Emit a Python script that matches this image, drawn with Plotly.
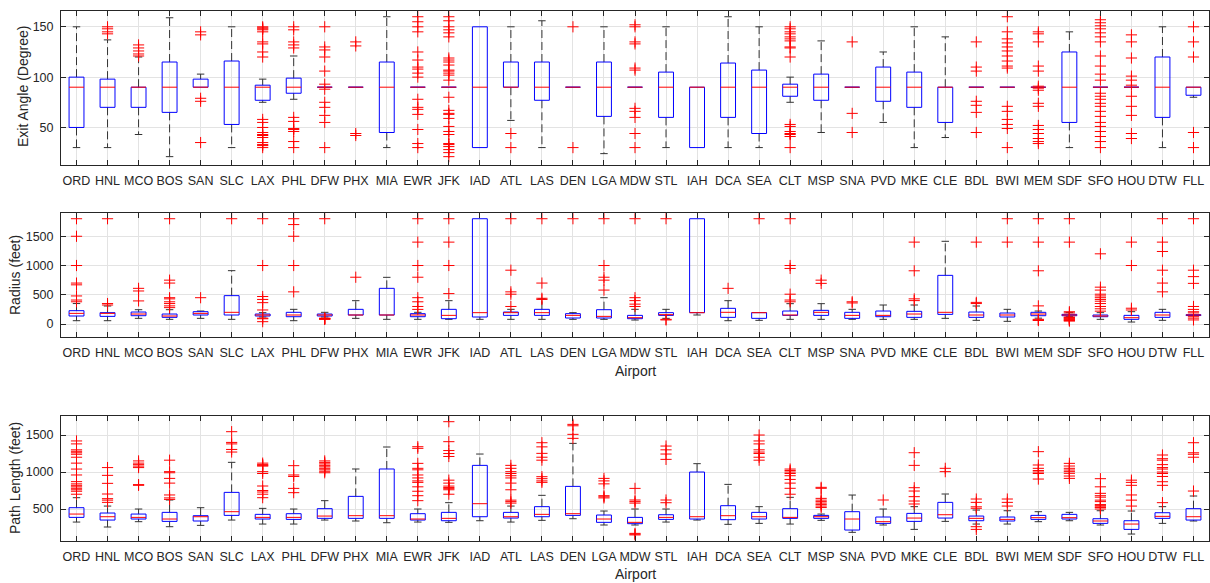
import plotly.graph_objects as go

# ---- categories ----
airports = ["ORD", "HNL", "MCO", "BOS", "SAN", "SLC", "LAX", "PHL", "DFW", "PHX",
            "MIA", "EWR", "JFK", "IAD", "ATL", "LAS", "DEN", "LGA", "MDW", "STL",
            "IAH", "DCA", "SEA", "CLT", "MSP", "SNA", "PVD", "MKE", "CLE", "BDL",
            "BWI", "MEM", "SDF", "SFO", "HOU", "DTW", "FLL"]

# ---- Exit angle (degree) ----
angle_q1 = [50, 70, 70, 65, 90, 53, 77, 84, 90, 90, 45, 90, 90, 30, 90, 77, 90, 61, 90, 60,
            30, 60, 44, 81, 77, 90, 76, 70, 55, 90, 90, 90, 55, 90, 90, 60, 82]
angle_med = [90] * 37
angle_q3 = [100, 98, 90, 115, 98, 116, 92, 99, 90, 90, 115, 90, 90, 150, 115, 115, 90, 115, 90, 105,
            90, 114, 107, 93, 103, 90, 110, 105, 90, 90, 90, 90, 125, 90, 90, 120, 90]
angle_lo = [30, 30, 43, 21, 90, 30, 75, 78, 90, 90, 30, 90, 90, 30, 57, 30, 90, 24, 90, 30,
            30, 30, 30, 75, 45, 90, 55, 30, 40, 90, 90, 90, 30, 90, 90, 30, 80]
angle_hi = [150, 137, 120, 159, 103, 150, 98, 121, 90, 90, 160, 90, 90, 150, 150, 156, 90, 150, 90, 150,
            90, 160, 150, 100, 136, 90, 125, 150, 140, 90, 90, 90, 145, 90, 90, 150, 90]
angle_out = [
    [], [150, 148, 145, 143], [132, 129, 126, 123, 121], [], [145, 142, 79, 76, 35], [],
    [150, 149, 148, 147, 145, 135, 133, 125, 120, 58, 55, 50, 45, 43, 42, 40, 35, 33, 32, 30],
    [150, 147, 135, 132, 129, 60, 56, 49, 48, 46, 36, 30],
    [150, 130, 127, 120, 106, 93, 88, 75, 70, 62, 55, 30],
    [135, 131, 44, 42], [],
    [160, 155, 150, 145, 125, 117, 110, 108, 104, 100, 78, 70, 68, 63, 48, 34, 30],
    [160, 156, 150, 147, 144, 140, 119, 117, 115, 112, 107, 106, 104, 102, 97, 80, 67, 64, 63,
     59, 51, 46, 43, 34, 33, 31, 28, 25, 21],
    [], [44, 30], [], [150, 30], [], [152, 150, 135, 133, 109, 107, 69, 66, 60, 44, 30], [],
    [], [], [],
    [150, 148, 145, 143, 140, 138, 136, 130, 129, 120, 53, 51, 46, 44, 43, 41, 30],
    [], [135, 64, 45], [], [], [], [135, 110, 106, 76, 72, 65, 45],
    [160, 145, 138, 134, 130, 126, 121, 116, 111, 109, 71, 66, 58, 53, 49, 30],
    [145, 143, 135, 111, 106, 91, 89, 87, 74, 71, 52, 48, 44, 39, 36, 34],
    [],
    [157, 154, 151, 148, 144, 140, 135, 121, 111, 103, 97, 84, 81, 78, 74, 71, 66, 61, 55, 51,
     46, 41, 36, 30],
    [142, 135, 119, 101, 97, 92, 81, 71, 62, 44, 39],
    [], [150, 135, 120, 45, 30],
]

# ---- Radius (feet) ----
radius_q1 = [137, 131, 142, 114, 154, 154, 137, 125, 137, 154, 154, 125, 91, 120, 148, 148, 103, 103, 91, 148,
             194, 114, 97, 148, 148, 97, 125, 114, 165, 114, 120, 142, 142, 125, 80, 114, 145]
radius_med = [182, 182, 171, 137, 182, 200, 154, 154, 154, 154, 154, 154, 148, 194, 194, 194, 148, 131, 108, 160,
              194, 200, 194, 154, 200, 148, 148, 171, 200, 154, 154, 171, 154, 137, 108, 154, 154]
radius_q3 = [228, 194, 205, 171, 211, 485, 171, 200, 171, 251, 610, 177, 251, 1800, 205, 251, 177, 245, 148, 194,
             1800, 268, 194, 222, 234, 200, 222, 217, 832, 205, 188, 200, 165, 154, 148, 200, 160]
radius_lo = [57, 57, 97, 80, 97, 80, 120, 57, 120, 97, 80, 80, 80, 80, 80, 80, 80, 80, 68, 97,
             154, 57, 63, 80, 80, 80, 80, 80, 97, 63, 46, 100, 125, 80, 34, 63, 145]
radius_hi = [350, 308, 245, 245, 222, 912, 194, 251, 200, 399, 798, 200, 399, 1800, 251, 430, 194, 450, 251, 251,
             1800, 399, 194, 348, 348, 251, 325, 325, 1414, 308, 251, 222, 194, 194, 211, 251, 160]
radius_out = [
    [1800, 1500, 1000, 700, 670, 480, 410, 380], [1800, 350, 325], [610, 565, 395],
    [1800, 750, 700, 450, 430, 380, 350, 310, 280], [450], [1800],
    [1800, 1000, 470, 420, 365, 240, 100, 90, 40], [1800, 1700, 1500, 1000, 550],
    [1800, 100, 95, 90, 85, 80], [800], [],
    [1800, 1400, 1000, 800, 450, 380, 300, 250], [1800, 1400, 1000, 520], [],
    [1800, 920, 550, 510, 300], [1800, 700, 440, 420], [1800], [1800, 1000, 800, 750, 580],
    [1800, 450, 400, 340, 300], [1800, 80, 70], [], [610], [1800],
    [1800, 1000, 950, 510, 410, 380], [750, 695], [380, 360], [], [1400, 910, 430, 400], [],
    [1400, 370, 350], [1800, 1400], [1800, 1400, 910, 310, 80, 70, 60],
    [1800, 1400, 210, 190, 120, 110, 100, 90, 80, 70, 60, 50],
    [1200, 630, 580, 510, 480, 450, 420, 390, 350, 300, 260, 220],
    [1400, 1000, 270, 240], [1800, 1400, 1240, 920, 700, 550],
    [1800, 920, 810, 695, 300, 250, 210, 190, 125, 100, 70],
]

# ---- Path length (feet) ----
path_q1 = [387, 351, 365, 333, 338, 414, 365, 360, 374, 374, 374, 351, 342, 396, 378, 396, 414, 320, 302, 360,
           365, 356, 365, 374, 374, 216, 306, 333, 378, 342, 338, 360, 365, 306, 225, 374, 351]
path_med = [432, 396, 387, 365, 396, 464, 387, 387, 405, 410, 410, 365, 374, 572, 396, 428, 437, 365, 320, 387,
            396, 410, 396, 387, 396, 365, 329, 378, 423, 374, 360, 383, 383, 338, 297, 401, 396]
path_q3 = [518, 446, 432, 455, 410, 725, 428, 437, 505, 671, 1041, 437, 455, 1090, 455, 532, 806, 419, 387, 423,
           1000, 545, 455, 505, 414, 464, 392, 441, 590, 405, 392, 414, 428, 369, 342, 450, 505]
path_lo = [324, 257, 329, 261, 279, 351, 297, 297, 351, 338, 315, 324, 320, 342, 324, 347, 369, 284, 284, 324,
           351, 293, 306, 297, 347, 185, 284, 225, 333, 297, 297, 329, 342, 284, 162, 306, 338]
path_hi = [653, 540, 500, 622, 518, 1131, 509, 500, 613, 1041, 1338, 500, 586, 1243, 540, 685, 1387, 473, 500, 500,
           1113, 833, 532, 658, 432, 689, 500, 532, 703, 486, 477, 464, 455, 477, 473, 532, 676]
path_out = [
    [1420, 1380, 1300, 1280, 1260, 1240, 1200, 1120, 1040, 960, 870, 840, 820, 800, 780, 760, 740, 700],
    [1060, 955, 847, 703, 640, 620, 590],
    [1150, 1120, 1100, 1080, 1060, 830, 820],
    [1160, 1005, 990, 914, 850, 690, 650, 630],
    [],
    [1545, 1400, 1380, 1305, 1270],
    [1120, 1100, 1090, 1080, 1005, 980, 811, 750, 730, 700, 653],
    [1086, 960, 940, 779, 721],
    [1150, 1130, 1110, 1090, 1070, 1050, 1030, 1010, 990],
    [], [],
    [1342, 1320, 1117, 1050, 1030, 960, 920, 880, 860, 800, 740, 680, 613],
    [1680, 1410, 1290, 1250, 1210, 890, 850, 810, 790, 775, 760, 700],
    [],
    [1090, 1050, 1005, 980, 950, 920, 850, 760, 620, 600, 580],
    [1396, 1340, 1252, 1200, 1160, 937, 910, 880, 860],
    [1644, 1625, 1509, 1455],
    [914, 880, 840, 680, 665, 650],
    [779, 622, 600, 580, 171, 160, 150],
    [1351, 1300, 1243, 1171, 622, 585],
    [], [],
    [1500, 1420, 1380, 1300, 1270, 1250, 1200, 1160],
    [1040, 1020, 1000, 980, 950, 900, 850, 780, 700],
    [793, 780, 644, 620, 600, 580, 560, 540, 520],
    [], [622],
    [1261, 1090, 788, 743, 667, 608, 568],
    [1050, 1005],
    [635, 590, 530, 510, 261, 225],
    [635, 590, 540],
    [1275, 1095, 1050, 1020, 1000, 980, 905],
    [1117, 1081, 1050, 1027, 1005, 982, 946, 914],
    [910, 800, 712, 680, 660, 620, 600, 560, 550, 530, 520, 500],
    [890, 860, 820, 690, 620, 540],
    [1230, 1180, 1160, 1100, 1060, 1040, 1000, 980, 940, 869, 820, 586],
    [1396, 1260, 1240, 1200, 743],
]

FONT = "Liberation Sans, Arial, sans-serif"
INK = "#262626"
GRID = "#e3e3e3"
BOX_HALF = 0.24
CAP_HALF = 0.12

fig = go.Figure()


def add_boxplot(q1, med, q3, lo, hi, out, xa, ya):
    """MATLAB-style boxplot: blue box, red median, dashed black whiskers, red '+' outliers."""
    pos = list(range(1, len(q1) + 1))
    wx, wy, cx, cy, bx, by, mx, my, ox, oy = ([] for _ in range(10))
    for p, a, m, b, l, h, o in zip(pos, q1, med, q3, lo, hi, out):
        if h > b:
            wx += [p, p, None]
            wy += [b, h, None]
            cx += [p - CAP_HALF, p + CAP_HALF, None]
            cy += [h, h, None]
        if l < a:
            wx += [p, p, None]
            wy += [a, l, None]
            cx += [p - CAP_HALF, p + CAP_HALF, None]
            cy += [l, l, None]
        bx += [p - BOX_HALF, p + BOX_HALF, p + BOX_HALF, p - BOX_HALF, p - BOX_HALF, None]
        by += [a, a, b, b, a, None]
        mx += [p - BOX_HALF, p + BOX_HALF, None]
        my += [m, m, None]
        ox += [p] * len(o)
        oy += list(o)
    common = dict(xaxis=xa, yaxis=ya, showlegend=False, hoverinfo="skip")
    fig.add_trace(go.Scatter(x=wx, y=wy, mode="lines",
                             line=dict(color="#333333", width=1, dash="8px,4px"), **common))
    fig.add_trace(go.Scatter(x=cx, y=cy, mode="lines",
                             line=dict(color="#333333", width=1), **common))
    fig.add_trace(go.Scatter(x=bx, y=by, mode="lines",
                             line=dict(color="#0000ff", width=1), **common))
    fig.add_trace(go.Scatter(x=mx, y=my, mode="lines",
                             line=dict(color="#ff0000", width=1), **common))
    fig.add_trace(go.Scatter(x=ox, y=oy, mode="markers",
                             marker=dict(symbol="cross-thin", size=8,
                                         line=dict(color="#ff0000", width=1)), **common))


add_boxplot(angle_q1, angle_med, angle_q3, angle_lo, angle_hi, angle_out, "x", "y")
add_boxplot(radius_q1, radius_med, radius_q3, radius_lo, radius_hi, radius_out, "x2", "y2")
add_boxplot(path_q1, path_med, path_q3, path_lo, path_hi, path_out, "x3", "y3")

W, H = 1210, 583
xdom = [61 / W, 1209 / W]
panels = [  # (top px, bottom px)
    (10.7, 164.7),
    (212.7, 337.3),
    (416.0, 540.7),
]
yranges = [[13, 166], [-227, 1903], [72, 1757]]
yticks = [[50, 100, 150], [0, 500, 1000, 1500], [500, 1000, 1500]]

axis_style = dict(showline=True, linecolor=INK, linewidth=1, mirror="ticks",
                  ticks="inside", ticklen=5, tickcolor=INK, tickwidth=1,
                  showgrid=True, gridcolor=GRID, gridwidth=1, zeroline=False,
                  tickfont=dict(family=FONT, size=12.5, color=INK))

layout = dict(width=W, height=H, margin=dict(l=0, r=0, t=0, b=0),
              paper_bgcolor="white", plot_bgcolor="white", showlegend=False)
for i, ((top, bot), yr, yt) in enumerate(zip(panels, yranges, yticks)):
    sfx = "" if i == 0 else str(i + 1)
    layout["xaxis" + sfx] = dict(domain=xdom, range=[0.5, 37.5], anchor="y" + sfx,
                                 tickmode="array", tickvals=list(range(1, 38)),
                                 ticktext=airports, tickangle=0,
                                 ticklabelstandoff=4, **axis_style)
    layout["yaxis" + sfx] = dict(domain=[1 - bot / H, 1 - top / H], range=yr,
                                 anchor="x" + sfx, tickmode="array", tickvals=yt,
                                 ticklabelstandoff=4, **axis_style)
fig.update_layout(**layout)

title_font = dict(family=FONT, size=14, color=INK)
annotations = [
    dict(text="Exit Angle (Degree)", x=23 / W, y=1 - 87 / H, textangle=-90),
    dict(text="Radius (feet)", x=15 / W, y=1 - 275 / H, textangle=-90),
    dict(text="Path Length (feet)", x=15 / W, y=1 - 478 / H, textangle=-90),
    dict(text="Airport", x=635 / W, y=1 - 371 / H, textangle=0),
    dict(text="Airport", x=635 / W, y=1 - 574 / H, textangle=0),
]
for a in annotations:
    fig.add_annotation(xref="paper", yref="paper", xanchor="center", yanchor="middle",
                       showarrow=False, font=title_font, **a)

fig.write_html("out.html")
